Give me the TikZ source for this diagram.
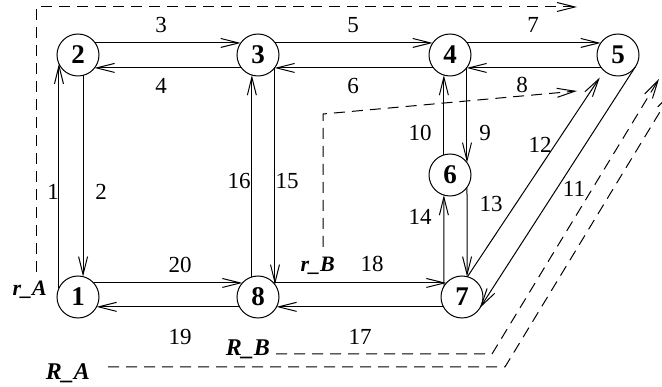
\documentclass[tikz,border=0pt]{standalone}
\usepackage{fontspec}
\setmainfont{Liberation Serif}
\usetikzlibrary{arrows.meta}
\begin{document}
\begin{tikzpicture}[x=1pt,y=-1pt,
  vert/.style={circle,draw,line width=1pt,minimum size=42pt,inner sep=0pt,outer sep=0pt,
    font=\fontsize{27}{27}\selectfont\bfseries},
  edge/.style={line width=1pt,-{Straight Barb[length=18pt,width=9pt,line width=1pt]}},
  dl/.style={line width=1pt,dash pattern=on 11pt off 7pt,-{Straight Barb[length=18pt,width=9pt,line width=1pt]}},
  lbl/.style={inner sep=0pt,font=\fontsize{23}{23}\selectfont},
  rlbl/.style={inner sep=0pt,anchor=base east,font=\fontsize{22}{22}\selectfont\bfseries\itshape},
  Rlbl/.style={inner sep=0pt,anchor=base east,font=\fontsize{24}{24}\selectfont\bfseries\itshape}]
\clip (0,0) rectangle (662,387);
% nodes
\node[vert] (n1) at (78,297) {1};
\node[vert] (n2) at (78,55) {2};
\node[vert] (n3) at (258,55) {3};
\node[vert] (n4) at (450,55) {4};
\node[vert] (n5) at (618,55) {5};
\node[vert] (n6) at (450,175) {6};
\node[vert] (n7) at (462,297) {7};
\node[vert] (n8) at (258,297) {8};
% edges
\draw[edge] (n1.155) -- (n2.205);
\draw[edge] (n2.284) -- (n1.76);
\draw[edge] (n2.35) -- (n3.145);
\draw[edge] (n3.218) -- (n2.322);
\draw[edge] (n3.35) -- (n4.145);
\draw[edge] (n4.218) -- (n3.322);
\draw[edge] (n4.35) -- (n5.145);
\draw[edge] (n5.218) -- (n4.322);
\draw[edge] (n4.324) -- (n6.36);
\draw[edge] (n6.107) -- (n4.253);
\draw[edge] (n5.325) -- (n7.329);
\draw[edge,shorten >=8pt] (n7.75) -- (n5.229);
\draw[edge] (n6.324) -- (n7.76);
\draw[edge] (n7.149) -- (n6.253);
\draw[edge] (n3.324) -- (n8.36);
\draw[edge] (n8.107) -- (n3.253);
\draw[edge] (n7.208) -- (n8.332);
\draw[edge] (n8.42) -- (n7.138);
\draw[edge] (n8.208) -- (n1.332);
\draw[edge] (n1.42) -- (n8.138);
% edge labels
\node[lbl] (e1) at (53,192) {1};
\node[lbl] (e2) at (101,192) {2};
\node[lbl] (e3) at (161,25) {3};
\node[lbl] (e4) at (161,86) {4};
\node[lbl] (e5) at (353,25) {5};
\node[lbl] (e6) at (353,86) {6};
\node[lbl] (e7) at (533,25) {7};
\node[lbl] (e8) at (522,85) {8};
\node[lbl] (e9) at (485,133) {9};
\node[lbl] (e10) at (420,133) {10};
\node[lbl] (e11) at (574,189) {11};
\node[lbl] (e12) at (540,145) {12};
\node[lbl] (e13) at (491,204) {13};
\node[lbl] (e14) at (420,217) {14};
\node[lbl] (e15) at (287,181) {15};
\node[lbl] (e16) at (239,181) {16};
\node[lbl] (e17) at (360,337) {17};
\node[lbl] (e18) at (372,264) {18};
\node[lbl] (e19) at (180,337) {19};
\node[lbl] (e20) at (180,265) {20};
% route labels
\node[rlbl] (rA) at (47,296) {r\_A};
\node[rlbl] (rB) at (335,272) {r\_B};
\node[Rlbl] (RB) at (270,356) {R\_B};
\node[Rlbl] (RA) at (90,380) {R\_A};
% dashed routes
\coordinate (rA0) at (36,272);
\coordinate (rA1) at (36,7);
\coordinate (rA2) at (577,7);
\draw[dl] (rA0) -- (rA1) -- (rA2);
\coordinate (rB0) at (323,247);
\coordinate (rB1) at (323,114);
\coordinate (rB2) at (577,91);
\draw[dl] (rB0) -- (rB1) -- (rB2);
\coordinate (RB0) at (276,354);
\coordinate (RB1) at (492,354);
\coordinate (RB2) at (659,79);
\draw[dl] (RB0) -- (RB1) -- (RB2);
\coordinate (RA0) at (108,367);
\coordinate (RA1) at (505,367);
\coordinate (RA2) at (672,92);
\draw[dl] (RA0) -- (RA1) -- (RA2);
\end{tikzpicture}
\end{document}
